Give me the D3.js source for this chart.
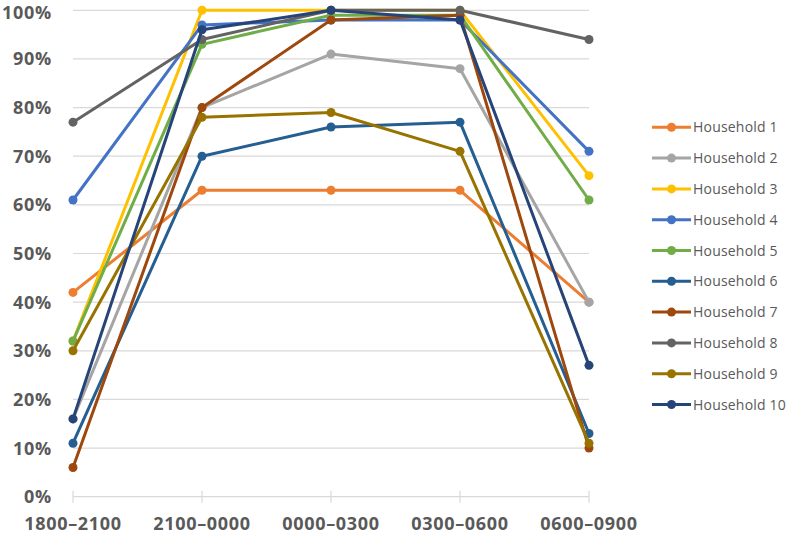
<!DOCTYPE html>
<html>
<head>
<meta charset="utf-8">
<script src="https://cdn.jsdelivr.net/npm/d3@7"></script>
<style>
  body { margin: 0; background: #fff; }
  svg { display: block; }
</style>
</head>
<body>
<svg id="chart"></svg>
<script>
const width = 789, height = 534;

const periods = ["1800–2100", "2100–0000", "0000–0300", "0300–0600", "0600–0900"];
const households = ["Household 1", "Household 2", "Household 3", "Household 4", "Household 5",
                    "Household 6", "Household 7", "Household 8", "Household 9", "Household 10"];
const colors = ["#ED7D31", "#A5A5A5", "#FFC000", "#4472C4", "#70AD47",
                "#255E91", "#9E480E", "#636363", "#997300", "#264478"];

// percent values per household, one per period
const hh1  = [42, 63, 63, 63, 40];
const hh2  = [16, 80, 91, 88, 40];
const hh3  = [32, 100, 100, 100, 66];
const hh4  = [61, 97, 98, 98, 71];
const hh5  = [32, 93, 99, 99, 61];
const hh6  = [11, 70, 76, 77, 13];
const hh7  = [6, 80, 98, 99, 10];
const hh8  = [77, 94, 100, 100, 94];
const hh9  = [30, 78, 79, 71, 11];
const hh10 = [16, 96, 100, 98, 27];
const series = [hh1, hh2, hh3, hh4, hh5, hh6, hh7, hh8, hh9, hh10];

const yTicks = [0, 10, 20, 30, 40, 50, 60, 70, 80, 90, 100];

const svg = d3.select("#chart").attr("width", width).attr("height", height);

const x = d3.scalePoint().domain(periods).range([73, 589]);
const y = d3.scaleLinear().domain([0, 100]).range([496.7, 10.3]);

// gridlines
svg.append("g")
  .selectAll("line")
  .data(yTicks.filter(d => d > 0))
  .join("line")
    .attr("x1", x(periods[0]))
    .attr("x2", x(periods[periods.length - 1]))
    .attr("y1", d => y(d))
    .attr("y2", d => y(d))
    .attr("stroke", "#d9d9d9")
    .attr("stroke-width", 1.2);

// y labels
svg.append("g")
  .selectAll("text")
  .data(yTicks)
  .join("text")
    .attr("x", 52)
    .attr("y", d => y(d) + (d === 100 ? 2 : 0))
    .attr("dy", "0.36em")
    .attr("text-anchor", "end")
    .style("font-family", "'Open Sans', sans-serif")
    .style("font-weight", "bold")
    .style("font-size", "18px")
    .style("letter-spacing", "0.7px")
    .style("fill", "#595959")
    .text(d => d + "%");

// x axis
const xAxis = svg.append("g").attr("transform", `translate(0,${y(0)})`);
xAxis.append("line")
  .attr("x1", x(periods[0]))
  .attr("x2", x(periods[periods.length - 1]))
  .attr("stroke", "#d9d9d9")
  .attr("stroke-width", 1.2);
xAxis.selectAll(".tick")
  .data(periods)
  .join("line")
    .attr("x1", d => x(d))
    .attr("x2", d => x(d))
    .attr("y1", -6)
    .attr("y2", 6)
    .attr("stroke", "#d9d9d9")
    .attr("stroke-width", 1.2);
xAxis.selectAll("text")
  .data(periods)
  .join("text")
    .attr("x", d => x(d))
    .attr("y", 33)
    .attr("text-anchor", "middle")
    .style("font-family", "'Open Sans', sans-serif")
    .style("font-weight", "bold")
    .style("font-size", "18px")
    .style("letter-spacing", "0.7px")
    .style("fill", "#595959")
    .text(d => d);

const line = d3.line()
  .x((d, i) => x(periods[i]))
  .y(d => y(d));

series.forEach((vals, k) => {
  const g = svg.append("g");
  g.append("path")
    .datum(vals)
    .attr("fill", "none")
    .attr("stroke", colors[k])
    .attr("stroke-width", 3)
    .attr("stroke-linejoin", "round")
    .attr("d", line);
  g.selectAll("circle")
    .data(vals)
    .join("circle")
      .attr("cx", (d, i) => x(periods[i]))
      .attr("cy", d => y(d))
      .attr("r", 4.5)
      .attr("fill", colors[k]);
});

// legend
const legend = svg.append("g");
households.forEach((name, i) => {
  const row = legend.append("g").attr("transform", `translate(652,${127.3 + i * 30.8})`);
  row.append("line")
    .attr("x1", 0).attr("x2", 39)
    .attr("stroke", colors[i])
    .attr("stroke-width", 3);
  row.append("circle")
    .attr("cx", 19.5).attr("r", 4.5)
    .attr("fill", colors[i]);
  row.append("text")
    .attr("x", 41)
    .attr("dy", "0.36em")
    .style("font-family", "'Open Sans', sans-serif")
    .style("font-size", "14px")
    .style("letter-spacing", "0.2px")
    .style("fill", "#595959")
    .text(name);
});
</script>
</body>
</html>
